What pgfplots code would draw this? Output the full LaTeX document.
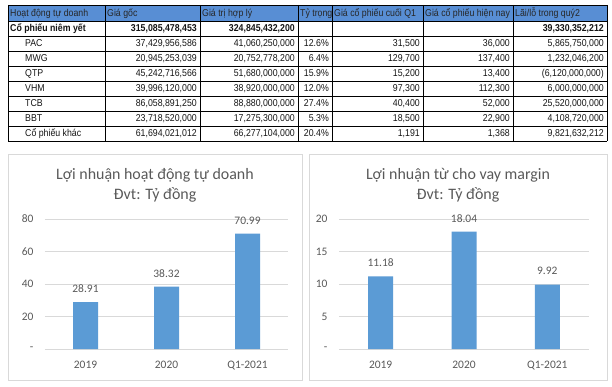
\documentclass[border=0pt]{standalone}
\usepackage{pgfplots}
\pgfplotsset{compat=1.18}
\usepackage{fontspec}
\setmainfont{Liberation Sans}
\newfontfamily\tabfont[FakeStretch=0.88]{Liberation Sans}
\newfontfamily\chartfont{Carlito}
\definecolor{hdr}{RGB}{88,142,212}
\definecolor{barc}{RGB}{91,155,213}
\definecolor{txt}{RGB}{89,89,89}
\definecolor{gridc}{RGB}{217,217,217}
\definecolor{tabtxt}{RGB}{20,20,20}

% table helpers (scope coords: x right, y down, in bp)
\newcommand\cellL[4]{\node[anchor=base west,inner sep=0pt,text=tabtxt] at (#1,#2) {#4#3};}
\newcommand\cellR[4]{\node[anchor=base east,inner sep=0pt,text=tabtxt] at (#1,#2) {#4#3};}
% #1 baseline y, #2 name x, #3 name, #4-#9 values
\newcommand\trow[9]{%
  \cellL{#2}{#1}{#3}{}%
  \cellR{197}{#1}{#4}{}%
  \cellR{295}{#1}{#5}{}%
  \cellR{329}{#1}{#6}{}%
  \cellR{420}{#1}{#7}{}%
  \cellR{510}{#1}{#8}{}%
  \cellR{604}{#1}{#9}{}%
}

\begin{document}
\begin{tikzpicture}
\useasboundingbox (0,0) rectangle (612bp,387bp);

% ---------------- table ----------------
\begin{scope}[x=1bp,y=-1bp,yshift=387bp,font=\tabfont\fontsize{10}{12}\selectfont]
  \fill[hdr] (8,5) rectangle (607,21);
  % header texts (clipped to cells)
  \foreach \xa/\xb/\t in {8/105/{Hoạt động tự doanh},105/200/{Giá gốc},200/298/{Giá trị hợp lý},298/332/{Tỷ trọng},332/423/{Giá cổ phiếu cuối Q1},423/513/{Giá cổ phiếu hiện nay},513/607/{Lãi/lỗ trong quý2}}{
    \begin{scope}
      \clip (\xa,5) rectangle (\xb,21);
      \node[anchor=base west,inner sep=0pt,text=black!85] at (\xa+2,17) {\t};
    \end{scope}
  }
  % rows
  \trow{32}{10}{\textbf{Cổ phiếu niêm yết}}{\textbf{315,085,478,453}}{\textbf{324,845,432,200}}{}{}{}{\textbf{39,330,352,212}}
  \trow{47}{25}{PAC}{37,429,956,586}{41,060,250,000}{12.6\%}{31,500}{36,000}{5,865,750,000}
  \trow{62}{25}{MWG}{20,945,253,039}{20,752,778,200}{6.4\%}{129,700}{137,400}{1,232,046,200}
  \trow{77}{25}{QTP}{45,242,716,566}{51,680,000,000}{15.9\%}{15,200}{13,400}{(6,120,000,000)}
  \trow{92}{25}{VHM}{39,996,120,000}{38,920,000,000}{12.0\%}{97,300}{112,300}{6,000,000,000}
  \trow{107}{25}{TCB}{86,058,891,250}{88,880,000,000}{27.4\%}{40,400}{52,000}{25,520,000,000}
  \trow{122}{25}{BBT}{23,718,520,000}{17,275,300,000}{5.3\%}{18,500}{22,900}{4,108,720,000}
  \trow{137}{25}{Cổ phiếu khác}{61,694,021,012}{66,277,104,000}{20.4\%}{1,191}{1,368}{9,821,632,212}
  % grid lines
  \foreach \yy in {5,21,36,51,66,81,96,111,126,141}{\draw[line width=0.8bp] (8,\yy) -- (607,\yy);}
  \foreach \xx in {8,105,200,298,332,423,513,607}{\draw[line width=0.8bp] (\xx,5) -- (\xx,141);}
\end{scope}

% ---------------- chart boxes ----------------
\draw[gridc,line width=0.8bp,fill=white] (8bp,7bp) rectangle (302bp,233bp);
\draw[gridc,line width=0.8bp,fill=white] (309bp,7bp) rectangle (607bp,233bp);

% titles
\node[anchor=base,inner sep=0pt,text=txt,font=\chartfont\fontsize{16}{19}\selectfont] at (155bp,207bp) {Lợi nhuận hoạt động tự doanh};
\node[anchor=base,inner sep=0pt,text=txt,font=\chartfont\fontsize{16}{19}\selectfont] at (155bp,187bp) {Đvt: Tỷ đồng};
\node[anchor=base,inner sep=0pt,text=txt,font=\chartfont\fontsize{16}{19}\selectfont] at (458bp,207bp) {Lợi nhuận từ cho vay margin};
\node[anchor=base,inner sep=0pt,text=txt,font=\chartfont\fontsize{16}{19}\selectfont] at (458bp,187bp) {Đvt: Tỷ đồng};

\pgfplotsset{
  mychart/.style={
    scale only axis, anchor=south west,
    height=130bp,
    xmin=-0.5, xmax=2.5, ymin=0,
    xtick={0,1,2}, xticklabels={2019,2020,Q1-2021},
    axis line style={draw=none},
    major tick length=0pt,
    ymajorgrids, grid style={gridc,line width=0.8bp},
    tick label style={font=\chartfont\fontsize{11.5}{13}\selectfont, text=txt},
    yticklabel style={xshift=-8bp},
    xticklabel style={yshift=-9bp},
    /pgf/number format/assume math mode=true,
    ybar, bar width=25bp,
    nodes near coords,
    nodes near coords style={font=\chartfont\fontsize{11.5}{13}\selectfont, text=txt, anchor=south, yshift=6bp,
      /pgf/number format/.cd, fixed, fixed zerofill, precision=2, assume math mode=true},
    point meta=y,
    clip=false,
  }
}

\begin{axis}[mychart, at={(45bp,38bp)}, width=243bp, ymax=80,
  ytick={0,20,40,60,80}, yticklabels={-,20,40,60,80}]
  \addplot[fill=barc, draw=none] coordinates {(0,28.91) (1,38.32) (2,70.99)};
\end{axis}

\begin{axis}[mychart, at={(339bp,38bp)}, width=250bp, ymax=20,
  ytick={0,5,10,15,20}, yticklabels={-,5,10,15,20}]
  \addplot[fill=barc, draw=none] coordinates {(0,11.18) (1,18.04) (2,9.92)};
\end{axis}
\end{tikzpicture}
\end{document}
